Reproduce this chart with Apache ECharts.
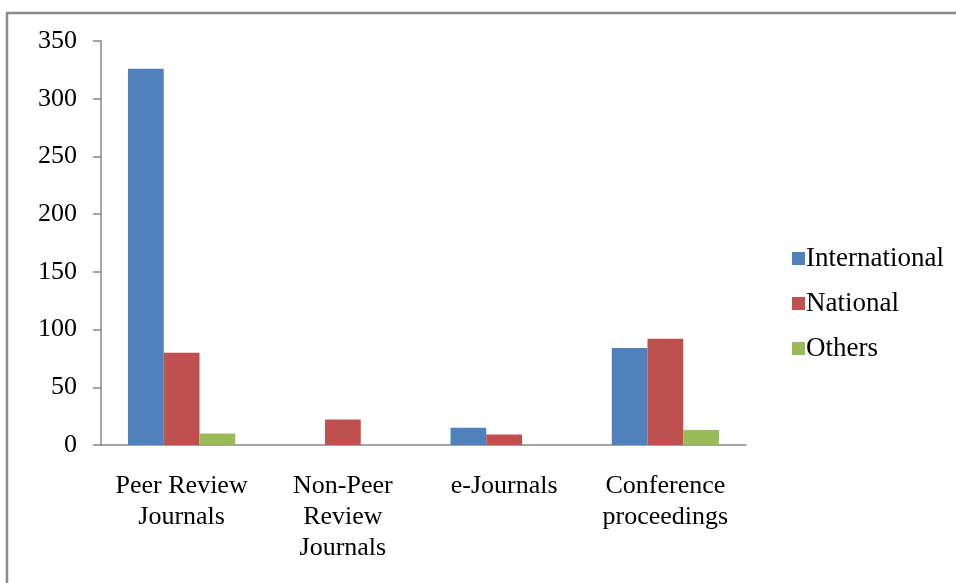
<!DOCTYPE html>
<html>
<head>
<meta charset="utf-8">
<script src="https://cdn.jsdelivr.net/npm/echarts@6/dist/echarts.min.js"></script>
<style>html,body{margin:0;padding:0;background:#fff;}#c{width:956px;height:583px;}</style>
</head>
<body>
<div id="c"></div>
<script>
const categories = ['Peer Review\nJournals', 'Non-Peer\nReview\nJournals', 'e-Journals', 'Conference\nproceedings'];
const international = [326, 0, 15, 84];
const national = [80, 22, 9, 92];
const others = [10, 0, 0, 13];
const yTicks = [0, 50, 100, 150, 200, 250, 300, 350];

const chart = echarts.init(document.getElementById('c'), null, {renderer: 'canvas'});
const font = 'Liberation Serif';
const axisColor = '#878787';
const barStyle = (c) => ({ type: 'bar', barGap: '0%', barCategoryGap: '33.5%', itemStyle: { color: c }, emphasis: { disabled: true } });
chart.setOption({
  animation: false,
  graphic: [{
    type: 'rect', shape: { x: 7, y: 13, width: 1200, height: 1000 },
    style: { fill: 'none', stroke: '#8a8a8a', lineWidth: 2.5 }, silent: true
  }],
  grid: { left: 101, right: 210, top: 41, bottom: 138 },
  legend: {
    orient: 'vertical', left: 787, top: 240,
    itemWidth: 13, itemHeight: 13, itemGap: 18,
    icon: 'rect',
    textStyle: { fontFamily: font, fontSize: 27, color: '#000', padding: [0, 0, 0, -4] },
    data: ['International', 'National', 'Others']
  },
  xAxis: {
    type: 'category', data: categories,
    axisLine: { lineStyle: { color: axisColor, width: 1.5 } },
    axisTick: { length: 8, lineStyle: { color: axisColor, width: 1.5 } },
    axisLabel: { fontFamily: font, fontSize: 26, color: '#000', lineHeight: 31, margin: 26, interval: 0 }
  },
  yAxis: {
    type: 'value', min: 0, max: 350, interval: 50,
    axisLine: { show: true, lineStyle: { color: axisColor, width: 1.5 } },
    axisTick: { show: true, length: 8, lineStyle: { color: axisColor, width: 1.5 } },
    splitLine: { show: false },
    axisLabel: { fontFamily: font, fontSize: 26, color: '#000', margin: 24,
      formatter: (v) => yTicks.includes(v) ? String(v) : '' }
  },
  series: [
    Object.assign(barStyle('#4F81BD'), { name: 'International', data: international }),
    Object.assign(barStyle('#C0504D'), { name: 'National', data: national }),
    Object.assign(barStyle('#9BBB59'), { name: 'Others', data: others })
  ]
});
</script>
</body>
</html>
